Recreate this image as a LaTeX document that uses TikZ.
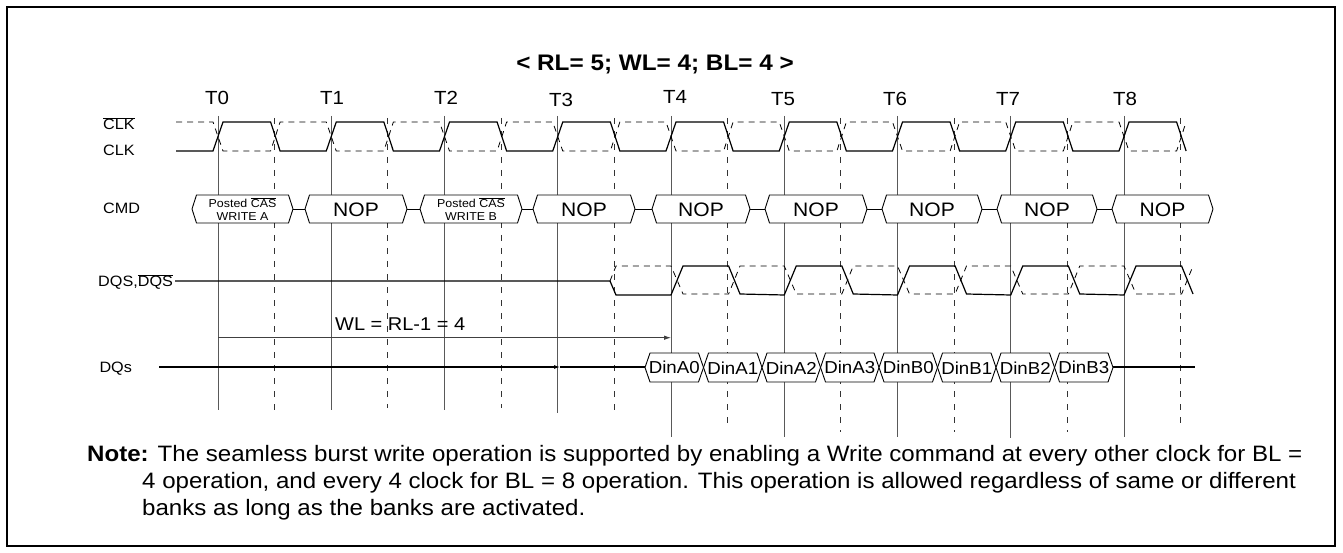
\documentclass[tikz,border=0pt]{standalone}
\usepackage{fontspec}
\setmainfont{Liberation Sans}[FakeStretch=1.08]
\usetikzlibrary{arrows.meta}
\newcommand\ovl[1]{$\overline{\mbox{#1}}$}
\newcommand\fs[1]{\fontsize{#1}{#1}\selectfont}
\begin{document}
\begin{tikzpicture}[x=1pt,y=-1pt,
  wave/.style={line width=1.2pt, black, line join=miter},
  dwave/.style={line width=0.8pt, black, dash pattern=on 6pt off 5pt},
  tline/.style={line width=1pt, black!65},
  hline/.style={line width=0.9pt, black!80, dash pattern=on 6pt off 7pt},
  lbl/.style={inner sep=0, anchor=base west, font=\fs{15}},
  tlbl/.style={inner sep=0, anchor=base, font=\fs{19}},
  cmdbox/.style={line width=0.9pt, black, fill=white},
  nop/.style={inner sep=0, font=\fs{19.5}},
  pcas/.style={inner sep=0, align=center, font=\fontsize{11.5}{13.3}\selectfont},
  din/.style={inner sep=0, font=\fs{17.3}},
  note/.style={inner sep=0, anchor=base west, font=\fs{22.3}}
]
\useasboundingbox (0,0) rectangle (1343,553);
\draw[line width=2pt] (7,7) rectangle (1335,546);

% title
\node[inner sep=0, anchor=base, font=\bfseries\fs{22.5}] (title) at (655,70.7) {< RL= 5; WL= 4; BL= 4 >};

% T labels
\foreach \n/\x/\y in {0/217/105,1/332/105,2/446/105,3/561/107,4/675/103.5,5/783/106,6/895/106,7/1008/106,8/1125/106}
  \node[tlbl] (t\n) at (\x,\y) {T\n};

% vertical solid lines
\foreach \n/\b in {0/410,1/410,2/410,3/413,4/437,5/437,6/437,7/438,8/437}
  \draw[tline] ({218+113.25*\n},116) -- ({218+113.25*\n},\b);
% vertical dashed lines
\foreach \n/\b in {0/410,1/408,2/408,3/410,4/427,5/432,6/432,7/432,8/428}
  \draw[hline] ({218+113.25*\n+56.6},118) -- ({218+113.25*\n+56.6},\b);

% signal labels
\node[lbl] (lclkb) at (103,130) {\ovl{CLK}};
\node[lbl] (lclk) at (103,156) {CLK};
\node[lbl] (lcmd) at (103,213.3) {CMD};
\node[lbl] (ldqs) at (98,287) {DQS,\ovl{DQS}};
\node[lbl] (ldq) at (99.3,372.7) {DQs};

% CLK
\draw[wave] (176,151) \foreach \n in {0,...,8} {
  -- ({218+113.25*\n-5},151) -- ({218+113.25*\n+5},122)
  -- ({218+113.25*\n+56.6-4},122) -- ({218+113.25*\n+56.6+5.5},151) };
% CLK#
\draw[dwave] (176,122) \foreach \n in {0,...,8} {
  -- ({218+113.25*\n-5},122) -- ({218+113.25*\n+5},151)
  -- ({218+113.25*\n+56.6-4},151) -- ({218+113.25*\n+56.6+5.5},122) };

% DQS
\draw[wave] (175,281) -- (610,281) -- (616,295) \foreach \n in {4,...,8} {
  -- ({218+113.25*\n},295) -- ({218+113.25*\n+12},266)
  -- ({218+113.25*\n+57.6},266) -- ({218+113.25*\n+69},294) };
% DQS#
\draw[dwave] (610,281) -- (616,266) \foreach \n in {4,...,8} {
  -- ({218+113.25*\n},266) -- ({218+113.25*\n+12},294)
  -- ({218+113.25*\n+57.6},294) -- ({218+113.25*\n+69},266) };

% CMD connectors
\foreach \a/\b in {293/305,407/420,522/533,635/652,750/765,867/882,982/997,1097/1112}
  \draw[line width=0.9pt] (\a,209) -- (\b,209);
% CMD boxes
\foreach \a/\b in {192/293,305/407,420/522,533/635,652/750,765/867,882/982,997/1097,1112/1213}
  \draw[cmdbox] (\a,209) -- (\a+4.5,195) -- (\b-4.5,195) -- (\b,209) -- (\b-4.5,223) -- (\a+4.5,223) -- cycle;
\node[pcas] (cwa) at (242.5,209) {Posted \ovl{CAS}\\WRITE A};
\node[pcas] (cwb) at (471,209) {Posted \ovl{CAS}\\WRITE B};
\foreach \a/\b [count=\i] in {305/407,533/635,652/750,765/867,882/982,997/1097,1112/1213}
  \node[nop] (nop\i) at ({(\a+\b)/2},209.7) {NOP};

% WL arrow
\coordinate (wls) at (218,337.7);
\coordinate (wle) at (671,337.7);
\draw[line width=0.8pt, black!75, -{Latex[length=7pt,width=4.5pt]}] (wls) -- (wle);
\node[inner sep=0, anchor=base west, font=\fs{18.5}] (wl) at (335,330.7) {WL = RL-1 = 4};

% DQs line
\coordinate (dqs0) at (159,367);
\coordinate (dqm) at (560,367);
\coordinate (dqe) at (1195,367);
\draw[line width=1.1pt, -{Latex[length=6pt,width=4pt]}] (dqs0) -- (dqm);
\draw[line width=1.1pt] (dqm) -- (645,367);
\draw[line width=1.1pt] (1113,367) -- (dqe);
\foreach \t [count=\k from 0] in {DinA0,DinA1,DinA2,DinA3,DinB0,DinB1,DinB2,DinB3} {
  \draw[cmdbox] ({645+58.5*\k},367.5) -- ({645+58.5*\k+5},353) -- ({645+58.5*\k+53.5},353)
    -- ({645+58.5*\k+58.5},367.5) -- ({645+58.5*\k+53.5},382) -- ({645+58.5*\k+5},382) -- cycle;
  \node[din] (d\k) at ({645+58.5*\k+29.25},367.8) {\t};
}

% note
\node[note] (n1) at (87,461.5) {\textbf{Note:} The seamless burst write operation is supported by enabling a Write command at every other clock for BL =};
\node[note] (n2) at (142,488.5) {4 operation, and every 4 clock for BL = 8 operation. This operation is allowed regardless of same or different};
\node[note] (n3) at (142,515.5) {banks as long as the banks are activated.};
\end{tikzpicture}
\end{document}
